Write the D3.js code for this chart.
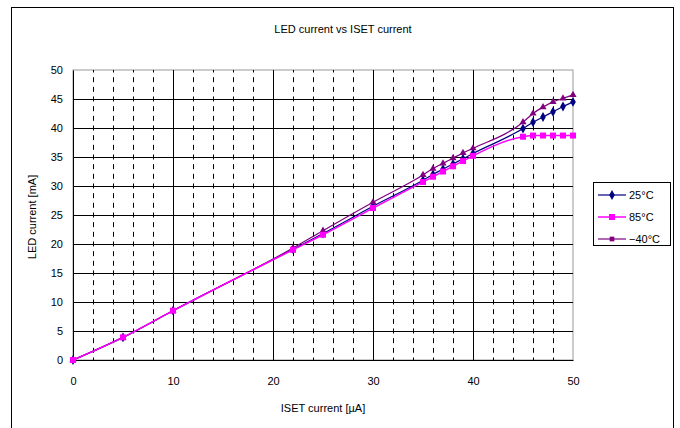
<!DOCTYPE html>
<html>
<head>
<meta charset="utf-8">
<script src="https://cdn.jsdelivr.net/npm/d3@7/dist/d3.min.js"></script>
<style>
  html, body { margin: 0; padding: 0; background: #fff; }
  svg { display: block; }
  text { font-family: "Liberation Sans", Arial, sans-serif; fill: #000; }
</style>
</head>
<body>
<svg id="chart" width="680" height="428"></svg>
<script>
// ---- data ----
const isetValues = [0, 5, 10, 22, 25, 30, 35, 36, 37, 38, 39, 40, 45, 46, 47, 48, 49, 50];
const led25C     = [0, 3.9, 8.5, 19.1, 21.8, 26.5, 31.0, 32.0, 32.9, 33.8, 34.7, 35.6, 39.9, 41.0, 41.9, 42.8, 43.7, 44.5];
const led85C     = [0, 3.9, 8.5, 19.0, 21.6, 26.2, 30.7, 31.6, 32.5, 33.4, 34.3, 35.2, 38.5, 38.7, 38.7, 38.7, 38.7, 38.7];
const ledM40C    = [0, 3.9, 8.5, 19.3, 22.3, 27.2, 31.9, 33.0, 33.9, 34.8, 35.7, 36.5, 41.0, 42.5, 43.6, 44.5, 45.1, 45.7];
const seriesNames = ["25°C", "85°C", "\u221240°C"];
const xTickValues = [0, 10, 20, 30, 40, 50];
const xMinorValues = [2, 4, 6, 8, 12, 14, 16, 18, 22, 24, 26, 28, 32, 34, 36, 38, 42, 44, 46, 48];
const yTickValues = [0, 5, 10, 15, 20, 25, 30, 35, 40, 45, 50];
const chartTitle = "LED current vs ISET current";
const xTitle = "ISET current [\u00b5A]";
const yTitle = "LED current [mA]";

// ---- layout ----
const svg = d3.select("#chart");
const L = 73, R = 573, T = 70, B = 360;
const x = d3.scaleLinear().domain([0, 50]).range([L, R]);
const y = d3.scaleLinear().domain([0, 50]).range([B, T]);

// outer chart border
svg.append("rect").attr("x", 11.5).attr("y", 7.5).attr("width", 662).attr("height", 430)
  .attr("fill", "#fff").attr("stroke", "#000").attr("stroke-width", 1);

// title
svg.append("text").attr("x", 343).attr("y", 33).attr("text-anchor", "middle")
  .attr("font-size", 11).text(chartTitle);

// plot area
svg.append("rect").attr("x", L).attr("y", T).attr("width", R - L).attr("height", B - T)
  .attr("fill", "#fff").attr("stroke", "#999").attr("stroke-width", 1);

// minor dashed vertical grid
svg.append("g").attr("transform", `translate(0,${B})`)
  .call(d3.axisBottom(x).tickValues(xMinorValues).tickSize(-(B - T)).tickFormat(""))
  .call(g => g.select(".domain").remove())
  .call(g => g.selectAll(".tick line").attr("stroke", "#000").attr("stroke-dasharray", "5,4.667")
    .attr("stroke-dashoffset", 2.5));

// major horizontal grid
svg.append("g").attr("transform", `translate(${L},0)`)
  .call(d3.axisLeft(y).tickValues(yTickValues.filter(v => v > 0 && v < 50)).tickSize(-(R - L)).tickFormat(""))
  .call(g => g.select(".domain").remove())
  .call(g => g.selectAll(".tick line").attr("stroke", "#000"));

// major vertical grid
svg.append("g").attr("transform", `translate(0,${B})`)
  .call(d3.axisBottom(x).tickValues(xTickValues.filter(v => v > 0 && v < 50)).tickSize(-(B - T)).tickFormat(""))
  .call(g => g.select(".domain").remove())
  .call(g => g.selectAll(".tick line").attr("stroke", "#000"));

// axes
svg.append("g").attr("transform", `translate(${L},0)`)
  .call(d3.axisLeft(y).tickValues(yTickValues).tickSize(0).tickPadding(10))
  .call(g => g.select(".domain").attr("stroke", "#000"))
  .call(g => g.selectAll("text").attr("font-size", 11).attr("font-family", "Liberation Sans, Arial, sans-serif").attr("fill", "#000"));
svg.append("g").attr("transform", `translate(0,${B})`)
  .call(d3.axisBottom(x).tickValues(xTickValues).tickSize(0).tickPadding(17))
  .call(g => g.select(".domain").attr("stroke", "#000"))
  .call(g => g.selectAll("text").attr("font-size", 11).attr("font-family", "Liberation Sans, Arial, sans-serif").attr("fill", "#000"));

// axis titles
svg.append("text").attr("x", 323).attr("y", 412).attr("text-anchor", "middle")
  .attr("font-size", 11).text(xTitle);
svg.append("text").attr("transform", "translate(36,217) rotate(-90)").attr("text-anchor", "middle")
  .attr("font-size", 11).text(yTitle);

// series
const series = [
  { name: seriesNames[0], values: led25C, color: "#000080", symbol: d3.symbolDiamond, size: 28, width: 1.2 },
  { name: seriesNames[1], values: led85C, color: "#FF00FF", symbol: d3.symbolSquare, size: 36, width: 1.5 },
  { name: seriesNames[2], values: ledM40C, color: "#800080", symbol: d3.symbolTriangle, size: 22, width: 1.2 }
];
const line = d3.line().x(d => x(d[0])).y(d => y(d[1])).curve(d3.curveMonotoneX);

// draw order: 25°C, -40°C, then 85°C on top
[series[0], series[2], series[1]].forEach(s => {
  const pts = isetValues.map((v, i) => [v, s.values[i]]);
  const g = svg.append("g");
  g.append("path").attr("d", line(pts)).attr("fill", "none")
    .attr("stroke", s.color).attr("stroke-width", s.width);
  g.selectAll("path.m").data(pts).join("path").attr("class", "m")
    .attr("transform", d => `translate(${x(d[0])},${y(d[1])})`)
    .attr("d", d3.symbol().type(s.symbol).size(s.size))
    .attr("fill", s.color);
});

// legend
const lg = svg.append("g");
lg.append("rect").attr("x", 593.5).attr("y", 182.5).attr("width", 77).attr("height", 63)
  .attr("fill", "#fff").attr("stroke", "#000").attr("stroke-width", 1);
series.forEach((s, i) => {
  const yy = 195 + i * 22;
  lg.append("line").attr("x1", 598).attr("x2", 626).attr("y1", yy).attr("y2", yy)
    .attr("stroke", s.color).attr("stroke-width", s.width);
  lg.append("path").attr("transform", `translate(612,${yy})`)
    .attr("d", d3.symbol().type(i === 2 ? d3.symbolSquare : s.symbol).size(s.size)).attr("fill", s.color);
  lg.append("text").attr("x", 629).attr("y", yy + 4).attr("font-size", 11).text(s.name);
});
</script>
</body>
</html>
